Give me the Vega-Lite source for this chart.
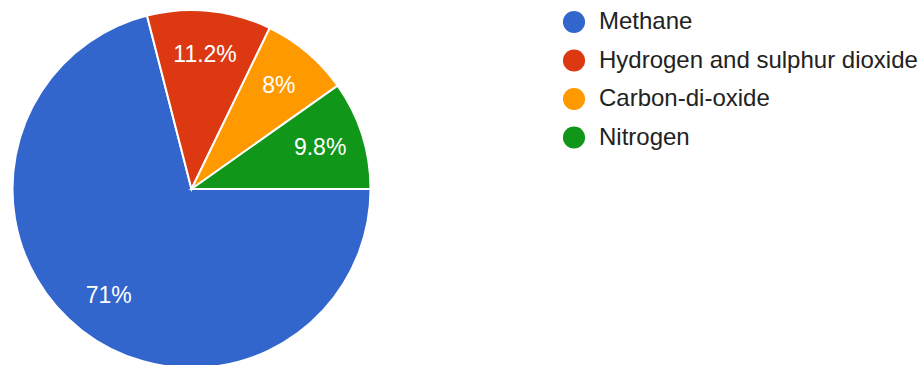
{
  "$schema": "https://vega.github.io/schema/vega-lite/v6.json",
  "width": 920,
  "height": 365,
  "autosize": {"type": "fit", "contains": "padding"},
  "padding": 0,
  "background": "white",
  "config": {"view": {"stroke": null}, "font": "Liberation Sans"},
  "data": {
    "values": [
      {"gas": "Methane", "share": 71, "label": "71%", "rank": 1},
      {"gas": "Hydrogen and sulphur dioxide", "share": 11.2, "label": "11.2%", "rank": 2},
      {"gas": "Carbon-di-oxide", "share": 8, "label": "8%", "rank": 3},
      {"gas": "Nitrogen", "share": 9.8, "label": "9.8%", "rank": 4}
    ]
  },
  "encoding": {
    "theta": {"field": "share", "type": "quantitative", "stack": true, "scale": {"range": [1.5708, 7.854]}},
    "order": {"field": "rank", "type": "quantitative"}
  },
  "layer": [
    {
      "mark": {"type": "arc", "x": 191.5, "y": 189, "outerRadius": 179, "stroke": "white", "strokeWidth": 2},
      "encoding": {
        "color": {
          "field": "gas",
          "type": "nominal",
          "sort": ["Methane", "Hydrogen and sulphur dioxide", "Carbon-di-oxide", "Nitrogen"],
          "scale": {
            "domain": ["Methane", "Hydrogen and sulphur dioxide", "Carbon-di-oxide", "Nitrogen"],
            "range": ["#3366cc", "#dc3912", "#ff9900", "#109618"]
          },
          "legend": {
            "title": null,
            "orient": "none",
            "legendX": 562,
            "legendY": 10,
            "symbolType": "circle",
            "symbolSize": 490,
            "symbolStrokeWidth": 0,
            "labelFontSize": 24,
            "labelColor": "#222222",
            "labelFont": "Liberation Sans",
            "labelOffset": 13,
            "rowPadding": 14.5,
            "labelLimit": 400
          }
        }
      }
    },
    {
      "mark": {"type": "text", "x": 191.5, "y": 189, "radius": 135, "fontSize": 23, "color": "white", "font": "Liberation Sans"},
      "encoding": {
        "text": {"field": "label", "type": "nominal"}
      }
    }
  ]
}
